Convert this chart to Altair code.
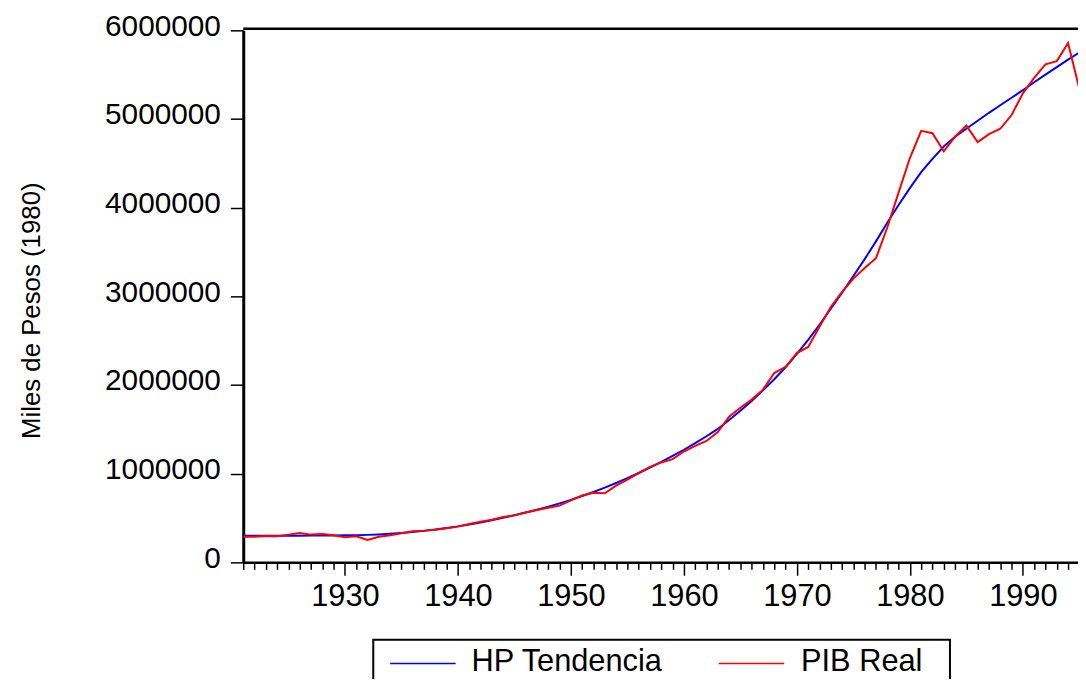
import altair as alt
import pandas as pd

# ---------------- data ----------------
years = list(range(1921, 1996))

pib_real = [
    288000, 290000, 298000, 295000, 313000, 332000, 313000, 320000, 305000, 283000,   # 1921-1930
    295000, 254000, 288000, 305000, 328000, 350000, 358000, 369000, 384000, 403000,   # 1931-1940
    433000, 459000, 481000, 511000, 530000, 563000, 590000, 615000, 640000, 698000,   # 1941-1950
    754000, 784000, 780000, 866000, 933000, 1007000, 1078000, 1127000, 1164000, 1250000,  # 1951-1960
    1313000, 1369000, 1470000, 1642000, 1743000, 1836000, 1948000, 2135000, 2205000, 2360000,  # 1961-1970
    2430000, 2657000, 2880000, 3050000, 3200000, 3320000, 3430000, 3776000, 4170000, 4560000,  # 1971-1980
    4866000, 4840000, 4635000, 4800000, 4926000, 4740000, 4830000, 4890000, 5045000, 5290000,  # 1981-1990
    5463000, 5616000, 5653000, 5858000, 5340000,                                               # 1991-1995
]

hp_tendencia = [
    300000, 300000, 300000, 300000, 300000, 301000, 302000, 303000, 304000, 305000,   # 1921-1930
    307000, 310000, 315000, 322000, 331000, 342000, 355000, 370000, 387000, 406000,   # 1931-1940
    427000, 450000, 475000, 502000, 531000, 562000, 594000, 628000, 665000, 705000,   # 1941-1950
    748000, 794000, 843000, 895000, 950000, 1008000, 1069000, 1133000, 1200000, 1270000,  # 1951-1960
    1344000, 1422000, 1505000, 1605000, 1710000, 1820000, 1940000, 2065000, 2200000, 2350000,  # 1961-1970
    2510000, 2680000, 2860000, 3040000, 3230000, 3420000, 3620000, 3830000, 4030000, 4220000,  # 1971-1980
    4400000, 4550000, 4690000, 4800000, 4890000, 4980000, 5070000, 5155000, 5240000, 5325000,  # 1981-1990
    5415000, 5500000, 5585000, 5670000, 5750000,                                               # 1991-1995
]

series_names = ["HP Tendencia", "PIB Real"]
series_colors = ["#0000FF", "#FF0000"]

x_tick_values = list(range(1921, 1995))
y_tick_values = [0, 1000000, 2000000, 3000000, 4000000, 5000000, 6000000]
x_domain = [1921, 1994.88]
y_domain = [0, 6000000]

y_title = "Miles de Pesos (1980)"

# ---------------- table ----------------
df = pd.DataFrame({
    "year": years + years,
    "value": hp_tendencia + pib_real,
    "series": [series_names[0]] * len(years) + [series_names[1]] * len(years),
})
one_row = pd.DataFrame({"v": [y_domain[1]]})

FONT = "Liberation Sans"

x_axis = alt.Axis(
    values=x_tick_values,
    format="d",
    labelExpr="datum.value % 10 === 0 ? datum.label : ''",
    tickSize={"condition": {"test": "datum.value % 10 === 0", "value": 13}, "value": 7},
    tickWidth=1.5,
    tickColor="black",
    domainColor="black",
    domainWidth=2.5,
    labelFont=FONT,
    labelFontSize=31,
    labelColor="black",
    labelPadding=6,
    labelOverlap=False,
    labelFlush=False,
    grid=False,
    title=None,
)

y_axis = alt.Axis(
    values=y_tick_values,
    format="d",
    tickSize=13,
    tickWidth=1.5,
    tickColor="black",
    domainColor="black",
    domainWidth=3,
    labelFont=FONT,
    labelFontSize=30,
    labelColor="black",
    labelPadding=10,
    labelOffset=-4,
    labelOverlap=False,
    labelFlush=False,
    labelLimit=400,
    grid=False,
    title=y_title,
    titleFont=FONT,
    titleFontSize=26,
    titleFontWeight="normal",
    titleColor="black",
    titleX=-213,
    titleY=282,
    titleAngle=-90,
    titleAlign="center",
    titleBaseline="middle",
)

lines = alt.Chart(df).mark_line(clip=True, strokeWidth=2).encode(
    x=alt.X("year:Q", scale=alt.Scale(domain=x_domain, nice=False, zero=False), axis=x_axis),
    y=alt.Y("value:Q", scale=alt.Scale(domain=y_domain, nice=False), axis=y_axis),
    color=alt.Color("series:N", scale=alt.Scale(domain=series_names, range=series_colors), legend=None),
)

top_frame = alt.Chart(one_row).mark_rule(color="black", strokeWidth=2.5).encode(
    y=alt.value(-1.5),
)

# ---------------- legend box (drawn by hand, bottom edge falls below the page) ----------------
legend_box = alt.Chart(one_row).mark_rect(fill="white", stroke="black", strokeWidth=2).encode(
    x=alt.value(131), x2=alt.value(712), y=alt.value(614), y2=alt.value(680),
)

legend_parts = []
sample_x = [148, 479]
label_x = [230, 562]
for i, name in enumerate(series_names):
    d = pd.DataFrame({"series": [name]})
    legend_parts.append(
        alt.Chart(d).mark_rule(color=series_colors[i], strokeWidth=1.5).encode(
            x=alt.value(sample_x[i]), x2=alt.value(sample_x[i] + 66), y=alt.value(638),
        )
    )
    legend_parts.append(
        alt.Chart(d).mark_text(font=FONT, fontSize=31, color="black", align="left", baseline="alphabetic").encode(
            text="series:N", x=alt.value(label_x[i]), y=alt.value(645),
        )
    )

chart = alt.layer(lines, top_frame, legend_box, *legend_parts).properties(
    width=841,
    height=536,
    padding={"left": 237, "top": 20, "right": 0, "bottom": 115},
    autosize=alt.AutoSizeParams(type="none"),
    background="white",
).configure_view(stroke=None)

chart.save("out.html", embed_options={"renderer": "svg", "actions": False})
